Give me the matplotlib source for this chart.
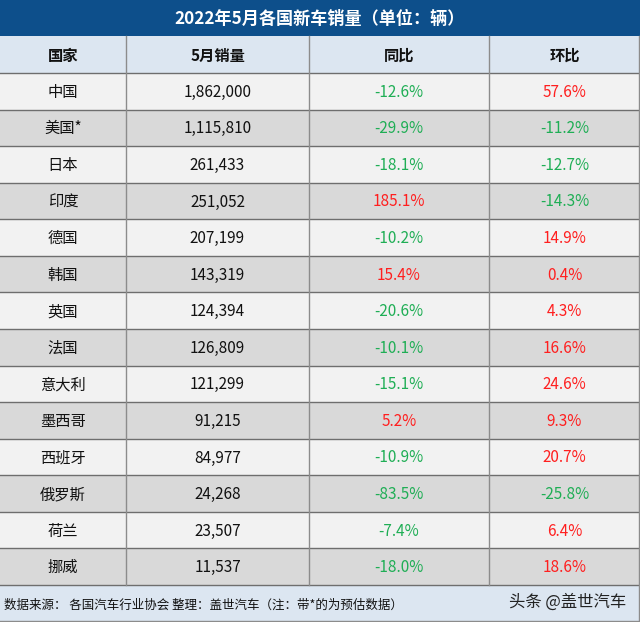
import matplotlib.pyplot as plt
from matplotlib.patches import Rectangle

plt.rcParams['font.family'] = ['Noto Sans CJK SC', 'DejaVu Sans']

title = '2022年5月各国新车销量（单位：辆）'
headers = ['国家', '5月销量', '同比', '环比']
countries = ['中国', '美国*', '日本', '印度', '德国', '韩国', '英国', '法国',
             '意大利', '墨西哥', '西班牙', '俄罗斯', '荷兰', '挪威']
sales = [1862000, 1115810, 261433, 251052, 207199, 143319, 124394, 126809,
         121299, 91215, 84977, 24268, 23507, 11537]
yoy = [-12.6, -29.9, -18.1, 185.1, -10.2, 15.4, -20.6, -10.1,
       -15.1, 5.2, -10.9, -83.5, -7.4, -18.0]
mom = [57.6, -11.2, -12.7, -14.3, 14.9, 0.4, 4.3, 16.6,
       24.6, 9.3, 20.7, -25.8, 6.4, 18.6]
note = '数据来源： 各国汽车行业协会 整理：盖世汽车（注：带*的为预估数据）'
brand = '头条 @盖世汽车'

W, H = 640, 622
col_edges = [0, 126, 309, 489, 640]
title_h = 36
head_bottom = 73
row_h = (585 - head_bottom) / len(countries)

RED = '#ff1f1f'
GREEN = '#1fae55'


def pct_color(v):
    return GREEN if v < 0 else RED


fig = plt.figure(figsize=(W / 100, H / 100), dpi=100)
ax = fig.add_axes([0, 0, 1, 1])
ax.set_xlim(0, W)
ax.set_ylim(H, 0)
ax.axis('off')

# Title band
ax.add_patch(Rectangle((0, 0), W, title_h, color='#0d4f8b', lw=0))
ax.text(W / 2, title_h / 2 + 1, title, color='white', fontsize=12.3,
        fontweight='bold', ha='center', va='center')

# Header row
ax.add_patch(Rectangle((0, title_h), W, head_bottom - title_h,
                       color='#dce6f1', lw=0))
for i, h in enumerate(headers):
    xc = (col_edges[i] + col_edges[i + 1]) / 2
    ax.text(xc, (title_h + head_bottom) / 2 + 1, h, fontsize=11,
            fontweight='bold', ha='center', va='center', color='#111111')

# Data rows
for r, name in enumerate(countries):
    y0 = head_bottom + r * row_h
    bg = '#f2f2f2' if r % 2 == 0 else '#d9d9d9'
    ax.add_patch(Rectangle((0, y0), W, row_h, color=bg, lw=0))
    yc = y0 + row_h / 2 + 1
    cells = [
        (name, '#111111'),
        ('{:,}'.format(sales[r]), '#111111'),
        ('{:.1f}%'.format(yoy[r]), pct_color(yoy[r])),
        ('{:.1f}%'.format(mom[r]), pct_color(mom[r])),
    ]
    for i, (s, c) in enumerate(cells):
        xc = (col_edges[i] + col_edges[i + 1]) / 2
        ax.text(xc, yc, s, fontsize=11, ha='center', va='center', color=c)
    ax.plot([0, W], [y0, y0], color='#6e6e6e', lw=1)

# Footer
foot_top = head_bottom + len(countries) * row_h
ax.add_patch(Rectangle((0, foot_top), W, H - foot_top, color='#dce6f1', lw=0))
ax.plot([0, W], [foot_top, foot_top], color='#6e6e6e', lw=1)
ax.text(4, (foot_top + H) / 2 + 2, note, fontsize=9, ha='left', va='center',
        color='#111111')
ax.text(626, (foot_top + H) / 2 - 1, brand, fontsize=11.8, ha='right',
        va='center', color='#222222')

# Vertical grid lines
for x in col_edges[1:-1]:
    ax.plot([x, x], [title_h, foot_top], color='#8c8c8c', lw=1)
ax.plot([W - 1, W - 1], [title_h, H], color='#8c8c8c', lw=1)
ax.plot([0, W], [H - 1, H - 1], color='#8c8c8c', lw=1)

fig.savefig('out.png', dpi=100)
